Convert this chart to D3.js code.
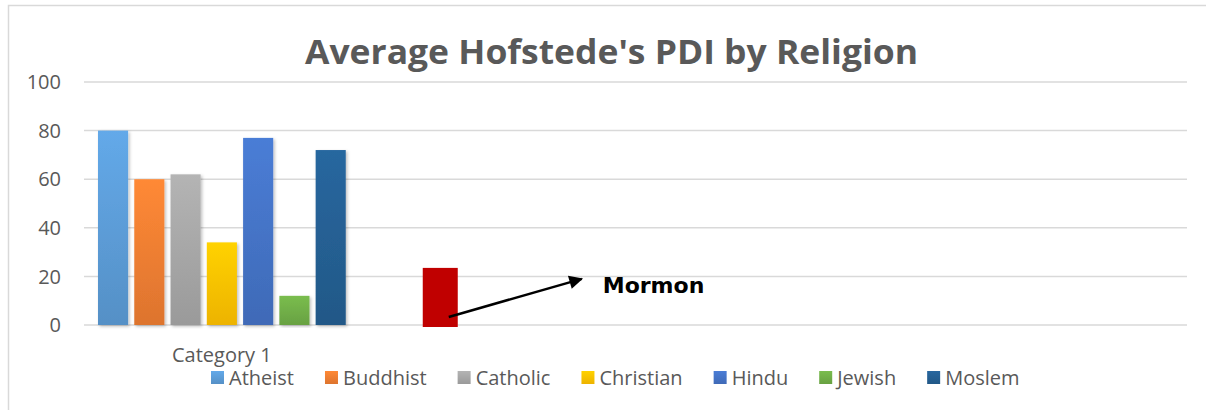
<!DOCTYPE html>
<html>
<head>
<meta charset="utf-8">
<script src="https://cdn.jsdelivr.net/npm/d3@7"></script>
<style>
  body { margin: 0; background: #fff; }
  text { font-family: "Open Sans", sans-serif; fill: #595959; }
</style>
</head>
<body>
<div id="chart"></div>
<script>
var categories = ["Category 1", "", "", ""];
var religions = ["Atheist", "Buddhist", "Catholic", "Christian", "Hindu", "Jewish", "Moslem"];
var pdi = [80, 60, 62, 34, 77, 12, 72];
var colors = ["#5b9bd5", "#ed7d31", "#a5a5a5", "#ffc000", "#4472c4", "#70ad47", "#255e91"];
var yTicks = [0, 20, 40, 60, 80, 100];
var mormon = { label: "Mormon", value: 23.5 };

var width = 1206,
    height = 410;

var svg = d3.select("#chart").append("svg")
    .attr("width", width)
    .attr("height", height);

var defs = svg.append("defs");

// soft shadow like the office bars
var shadow = defs.append("filter").attr("id", "shadow")
    .attr("x", "-20%").attr("y", "-5%").attr("width", "150%").attr("height", "115%");
shadow.append("feDropShadow")
    .attr("dx", 1.5).attr("dy", 1.5).attr("stdDeviation", 1.5)
    .attr("flood-color", "#000").attr("flood-opacity", 0.25);

colors.forEach(function (c, i) {
    var g = defs.append("linearGradient").attr("id", "grad" + i)
        .attr("x1", 0).attr("y1", 0).attr("x2", 0).attr("y2", 1);
    g.append("stop").attr("offset", "0%").attr("stop-color", d3.color(c).brighter(0.25));
    g.append("stop").attr("offset", "100%").attr("stop-color", d3.color(c).darker(0.2));
});

// chart frame
svg.append("path")
    .attr("d", "M8.5,410V5.5H1206")
    .attr("fill", "none")
    .attr("stroke", "#d9d9d9")
    .attr("stroke-width", 1.5);

var x = d3.scaleBand()
    .domain(d3.range(categories.length))
    .range([84, 1187]);

var y = d3.scaleLinear()
    .domain([0, 100])
    .range([325, 82]);

var xInner = d3.scaleBand()
    .domain(religions)
    .range([x(0) + 14, x(0) + x.bandwidth() - 14])
    .paddingInner(0.17);

// gridlines
svg.append("g").selectAll("line")
    .data(yTicks).enter().append("line")
    .attr("x1", 84).attr("x2", 1187)
    .attr("y1", function (d) { return y(d); })
    .attr("y2", function (d) { return y(d); })
    .attr("stroke", "#d9d9d9")
    .attr("stroke-width", 1.5);

// y labels
svg.append("g").selectAll("text")
    .data(yTicks).enter().append("text")
    .attr("x", 61)
    .attr("y", function (d) { return y(d); })
    .attr("dy", "0.36em")
    .attr("text-anchor", "end")
    .style("font-size", "20px")
    .text(function (d) { return d; });

// bars
svg.append("g").selectAll("rect")
    .data(pdi).enter().append("rect")
    .attr("x", function (d, i) { return xInner(religions[i]); })
    .attr("width", xInner.bandwidth())
    .attr("y", function (d) { return y(d); })
    .attr("height", function (d) { return y(0) - y(d); })
    .attr("fill", function (d, i) { return "url(#grad" + i + ")"; })
    .attr("filter", "url(#shadow)");

// category label
svg.append("g").selectAll("text")
    .data(categories).enter().append("text")
    .attr("x", function (d, i) { return x(i) + x.bandwidth() / 2; })
    .attr("y", 362)
    .attr("text-anchor", "middle")
    .style("font-size", "20px")
    .text(function (d) { return d; });

// title
svg.append("text")
    .attr("x", 611.5)
    .attr("y", 64)
    .attr("text-anchor", "middle")
    .attr("textLength", 613)
    .attr("lengthAdjust", "spacingAndGlyphs")
    .style("font-size", "34px")
    .style("font-weight", "bold")
    .text("Average Hofstede's PDI by Religion");

// mormon bar + arrow annotation
var mx = x(1) + 63;
svg.append("rect")
    .attr("x", mx)
    .attr("width", 35)
    .attr("y", y(mormon.value))
    .attr("height", y(0) - y(mormon.value) + 2)
    .attr("fill", "#c00000");

defs.append("marker").attr("id", "arrow")
    .attr("viewBox", "0 0 10 10")
    .attr("refX", 9).attr("refY", 5)
    .attr("markerWidth", 7).attr("markerHeight", 5.5)
    .attr("markerUnits", "strokeWidth")
    .attr("orient", "auto")
    .append("path").attr("d", "M0,0L10,5L0,10Z").attr("fill", "#000");

svg.append("line")
    .attr("x1", mx + 26).attr("y1", y(3.3))
    .attr("x2", mx + 159).attr("y2", y(19))
    .attr("stroke", "#000")
    .attr("stroke-width", 2.5)
    .attr("marker-end", "url(#arrow)");

svg.append("text")
    .attr("x", mx + 180)
    .attr("y", 293)
    .style("font-family", "'DejaVu Sans', sans-serif")
    .style("font-size", "22px")
    .style("font-weight", "bold")
    .style("fill", "#000")
    .text(mormon.label);

// legend
var legend = svg.append("g");
var lx = 211;
religions.forEach(function (r, i) {
    legend.append("rect")
        .attr("x", lx).attr("y", 371)
        .attr("width", 13).attr("height", 13)
        .attr("fill", "url(#grad" + i + ")");
    var t = legend.append("text")
        .attr("x", lx + 18)
        .attr("y", 385)
        .style("font-size", "20px")
        .text(r);
    lx += 18 + t.node().getComputedTextLength() + 31;
});
</script>
</body>
</html>
